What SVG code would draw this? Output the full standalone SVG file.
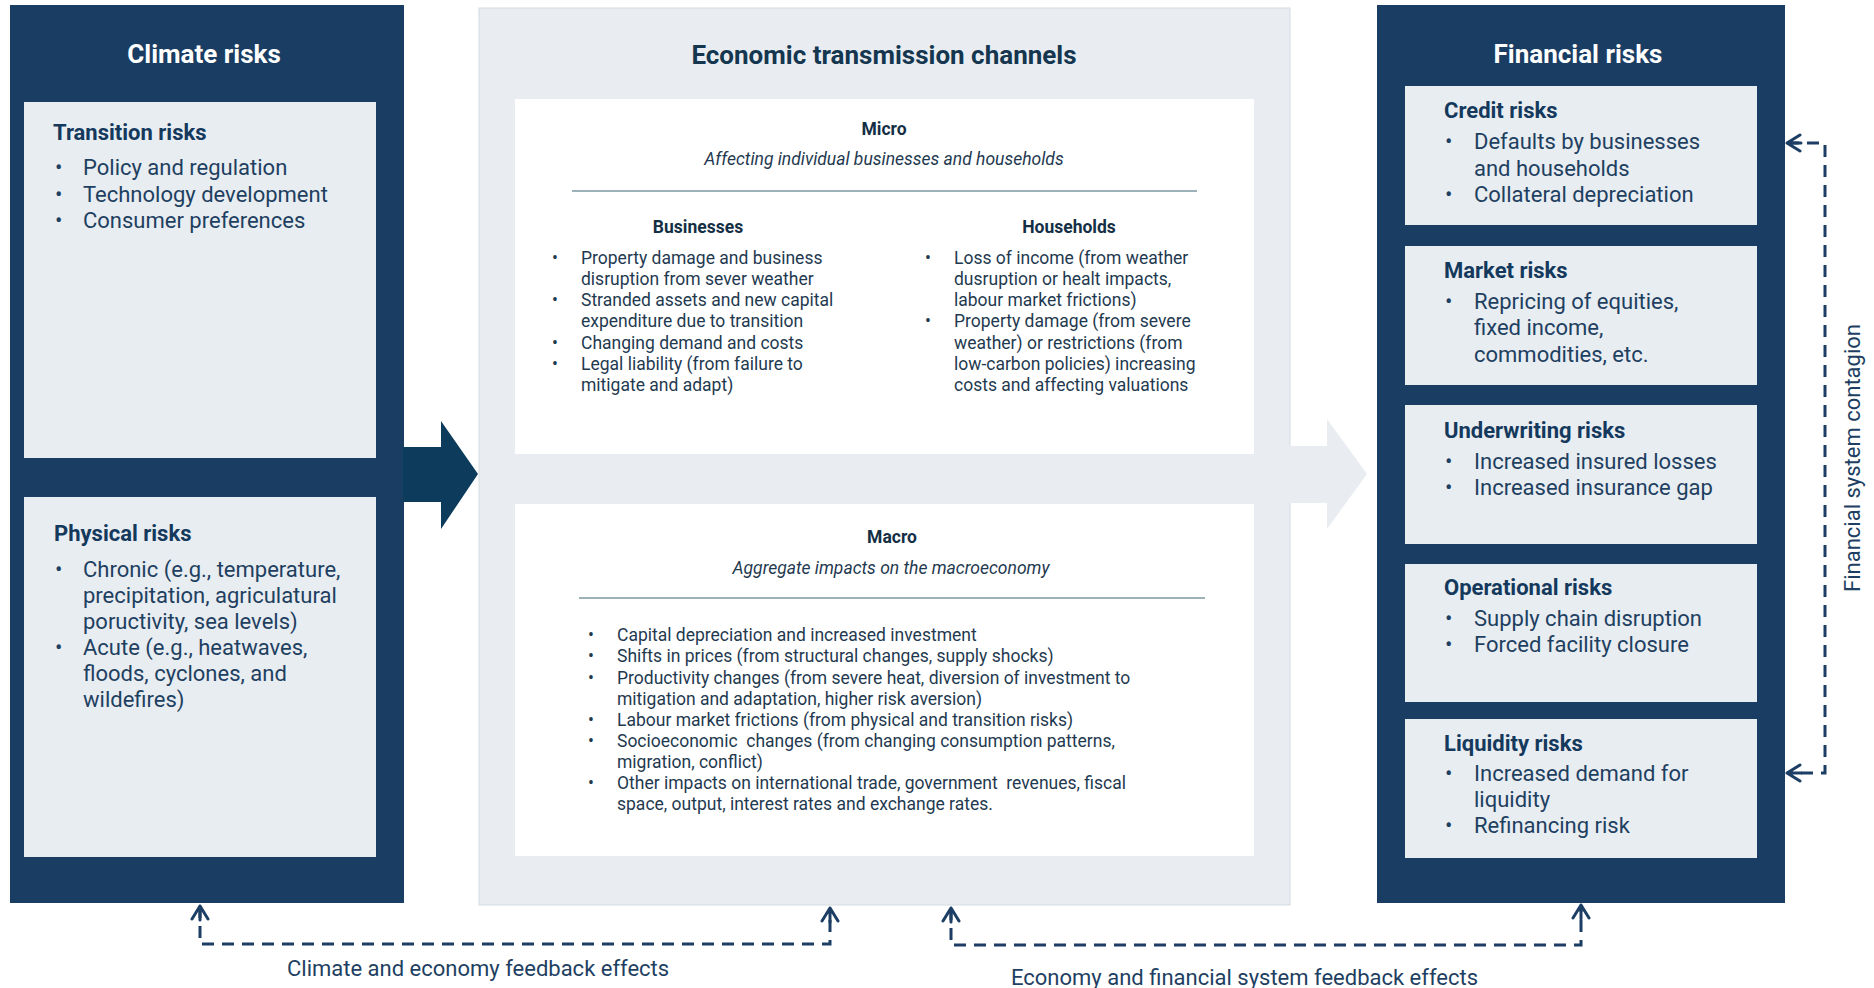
<svg xmlns="http://www.w3.org/2000/svg" width="1874" height="988" viewBox="0 0 1874 988">
  <style>
    text { font-family: Roboto, "Liberation Sans", sans-serif; }
    .panel { fill: #1a3d63; }
    .card { fill: #e8edf2; }
    .white { fill: #ffffff; }
    .title { font-size: 26px; font-weight: 700; text-anchor: middle; }
    .title-light { fill: #ffffff; }
    .title-dark { fill: #14364f; }
    .head { font-size: 22px; font-weight: 700; fill: #14395c; }
    .body { font-size: 22px; fill: #1e4060; }
    .sub { font-size: 17.5px; font-weight: 700; fill: #142f45; text-anchor: middle; }
    .ital { font-size: 17.5px; font-style: italic; fill: #1f3a50; text-anchor: middle; }
    .small { font-size: 17.5px; fill: #1f3a50; white-space: pre; }
    .rule { stroke: #7d97a5; stroke-width: 1.5; }
    .link { fill: none; stroke: #1d3e64; stroke-width: 3; stroke-dasharray: 12 8; }
    .label { font-size: 22px; fill: #1e3f62; }
  </style>
  <defs>
    <marker id="chevron" viewBox="-16 -10 18 20" markerWidth="18" markerHeight="20" refX="0" refY="0" orient="auto-start-reverse" markerUnits="userSpaceOnUse">
      <path d="M-13,-8 L0,0 L-13,8 M0,0 L-14,0" fill="none" stroke="#1d3e64" stroke-width="3" stroke-dasharray="none" stroke-linecap="round" stroke-linejoin="round"/>
    </marker>
  </defs>

  <rect width="1874" height="988" fill="#ffffff"/>

  <!-- Climate risks column -->
  <g id="climate-risks">
    <rect class="panel" x="10" y="5" width="394" height="898"/>
    <text class="title title-light" x="204" y="63">Climate risks</text>
  </g>
  <g id="transition-risks">
    <rect class="card" x="24" y="102" width="352" height="356"/>
    <text class="head" x="53" y="140">Transition risks</text>
    <text class="body"><tspan x="55" y="175">•</tspan><tspan x="83" y="175">Policy and regulation</tspan></text>
    <text class="body"><tspan x="55" y="201.5">•</tspan><tspan x="83" y="201.5">Technology development</tspan></text>
    <text class="body"><tspan x="55" y="228">•</tspan><tspan x="83" y="228">Consumer preferences</tspan></text>
  </g>
  <g id="physical-risks">
    <rect class="card" x="24" y="497" width="352" height="360"/>
    <text class="head" x="54" y="541">Physical risks</text>
    <text class="body"><tspan x="55" y="576.5">•</tspan><tspan x="83" y="576.5">Chronic (e.g., temperature,</tspan></text>
    <text class="body" x="83" y="602.5">precipitation, agriculatural</text>
    <text class="body" x="83" y="628.5">poructivity, sea levels)</text>
    <text class="body"><tspan x="55" y="654.5">•</tspan><tspan x="83" y="654.5">Acute (e.g., heatwaves,</tspan></text>
    <text class="body" x="83" y="680.5">floods, cyclones, and</text>
    <text class="body" x="83" y="706.5">wildefires)</text>
  </g>

  <!-- Economic transmission channels column -->
  <g id="transmission-channels">
    <rect x="479" y="8" width="811" height="897" fill="#e9edf1" stroke="#d5dbe2" stroke-width="1"/>
    <polygon points="1289,446 1327,446 1327,419 1367,474 1327,529 1327,503 1289,503" fill="#e9edf2"/>
    <text class="title title-dark" x="884" y="64">Economic transmission channels</text>
  </g>
  <g id="micro">
    <rect class="white" x="515" y="99" width="739" height="355"/>
    <text class="sub" x="884" y="135">Micro</text>
    <text class="ital" x="884" y="165">Affecting individual businesses and households</text>
    <line class="rule" x1="572" y1="191" x2="1197" y2="191"/>
    <text class="sub" x="698" y="233">Businesses</text>
    <text class="small"><tspan x="552" y="264">•</tspan><tspan x="581" y="264">Property damage and business</tspan></text>
    <text class="small" x="581" y="285">disruption from sever weather</text>
    <text class="small"><tspan x="552" y="306">•</tspan><tspan x="581" y="306">Stranded assets and new capital</tspan></text>
    <text class="small" x="581" y="327">expenditure due to transition</text>
    <text class="small"><tspan x="552" y="348.5">•</tspan><tspan x="581" y="348.5">Changing demand and costs</tspan></text>
    <text class="small"><tspan x="552" y="369.5">•</tspan><tspan x="581" y="369.5">Legal liability (from failure to</tspan></text>
    <text class="small" x="581" y="390.5">mitigate and adapt)</text>
    <text class="sub" x="1069" y="233">Households</text>
    <text class="small"><tspan x="925" y="264">•</tspan><tspan x="954" y="264">Loss of income (from weather</tspan></text>
    <text class="small" x="954" y="285">dusruption or healt impacts,</text>
    <text class="small" x="954" y="306">labour market frictions)</text>
    <text class="small"><tspan x="925" y="327">•</tspan><tspan x="954" y="327">Property damage (from severe</tspan></text>
    <text class="small" x="954" y="348.5">weather) or restrictions (from</text>
    <text class="small" x="954" y="369.5">low-carbon policies) increasing</text>
    <text class="small" x="954" y="390.5">costs and affecting valuations</text>
  </g>
  <g id="macro">
    <rect class="white" x="515" y="504" width="739" height="352"/>
    <text class="sub" x="892" y="543">Macro</text>
    <text class="ital" x="891" y="574">Aggregate impacts on the macroeconomy</text>
    <line class="rule" x1="579" y1="598" x2="1205" y2="598"/>
    <text class="small"><tspan x="588" y="641">•</tspan><tspan x="617" y="641">Capital depreciation and increased investment</tspan></text>
    <text class="small"><tspan x="588" y="662">•</tspan><tspan x="617" y="662">Shifts in prices (from structural changes, supply shocks)</tspan></text>
    <text class="small"><tspan x="588" y="683.5">•</tspan><tspan x="617" y="683.5">Productivity changes (from severe heat, diversion of investment to</tspan></text>
    <text class="small" x="617" y="704.5">mitigation and adaptation, higher risk aversion)</text>
    <text class="small"><tspan x="588" y="726">•</tspan><tspan x="617" y="726">Labour market frictions (from physical and transition risks)</tspan></text>
    <text class="small"><tspan x="588" y="747">•</tspan><tspan x="617" y="747">Socioeconomic  changes (from changing consumption patterns,</tspan></text>
    <text class="small" x="617" y="768">migration, conflict)</text>
    <text class="small"><tspan x="588" y="789">•</tspan><tspan x="617" y="789">Other impacts on international trade, government  revenues, fiscal</tspan></text>
    <text class="small" x="617" y="809.5">space, output, interest rates and exchange rates.</text>
  </g>

  <!-- Arrow from climate risks into the transmission channels -->
  <g id="climate-to-economy">
    <polygon points="403,447 441,447 441,421 478,474 441,529 441,502 403,502" fill="#0d3b5c"/>
  </g>

  <!-- Financial risks column -->
  <g id="financial-risks">
    <rect class="panel" x="1377" y="5" width="408" height="898"/>
    <text class="title title-light" x="1578" y="63">Financial risks</text>
  </g>
  <g id="credit-risks">
    <rect class="card" x="1405" y="86" width="352" height="139"/>
    <text class="head" x="1444" y="118">Credit risks</text>
    <text class="body"><tspan x="1445" y="149">•</tspan><tspan x="1474" y="149">Defaults by businesses</tspan></text>
    <text class="body" x="1474" y="175.5">and households</text>
    <text class="body"><tspan x="1445" y="202">•</tspan><tspan x="1474" y="202">Collateral depreciation</tspan></text>
  </g>
  <g id="market-risks">
    <rect class="card" x="1405" y="246" width="352" height="139"/>
    <text class="head" x="1444" y="277.5">Market risks</text>
    <text class="body"><tspan x="1445" y="308.5">•</tspan><tspan x="1474" y="308.5">Repricing of equities,</tspan></text>
    <text class="body" x="1474" y="335">fixed income,</text>
    <text class="body" x="1474" y="361.5">commodities, etc.</text>
  </g>
  <g id="underwriting-risks">
    <rect class="card" x="1405" y="405" width="352" height="139"/>
    <text class="head" x="1444" y="437.5">Underwriting risks</text>
    <text class="body"><tspan x="1445" y="468.5">•</tspan><tspan x="1474" y="468.5">Increased insured losses</tspan></text>
    <text class="body"><tspan x="1445" y="494.5">•</tspan><tspan x="1474" y="494.5">Increased insurance gap</tspan></text>
  </g>
  <g id="operational-risks">
    <rect class="card" x="1405" y="564" width="352" height="138"/>
    <text class="head" x="1444" y="595">Operational risks</text>
    <text class="body"><tspan x="1445" y="626">•</tspan><tspan x="1474" y="626">Supply chain disruption</tspan></text>
    <text class="body"><tspan x="1445" y="652">•</tspan><tspan x="1474" y="652">Forced facility closure</tspan></text>
  </g>
  <g id="liquidity-risks">
    <rect class="card" x="1405" y="719" width="352" height="139"/>
    <text class="head" x="1444" y="750.5">Liquidity risks</text>
    <text class="body"><tspan x="1445" y="780.5">•</tspan><tspan x="1474" y="780.5">Increased demand for</tspan></text>
    <text class="body" x="1474" y="806.5">liquidity</text>
    <text class="body"><tspan x="1445" y="833">•</tspan><tspan x="1474" y="833">Refinancing risk</tspan></text>
  </g>

  <!-- Feedback and contagion loops -->
  <g id="connectors">
    <path class="link" d="M200,906 L200,944 L830,944 L830,908" marker-start="url(#chevron)" marker-end="url(#chevron)"/>
    <path class="link" d="M951,908 L951,945 L1581,945 L1581,905" marker-start="url(#chevron)" marker-end="url(#chevron)"/>
    <path class="link" d="M1787,143 L1825,143 L1825,773 L1787,773" marker-start="url(#chevron)" marker-end="url(#chevron)"/>
    <text class="label" x="287" y="976">Climate and economy feedback effects</text>
    <text class="label" x="1011" y="985">Economy and financial system feedback effects</text>
    <text class="label" text-anchor="middle" transform="translate(1860,458) rotate(-90)">Financial system contagion</text>
  </g>
</svg>
